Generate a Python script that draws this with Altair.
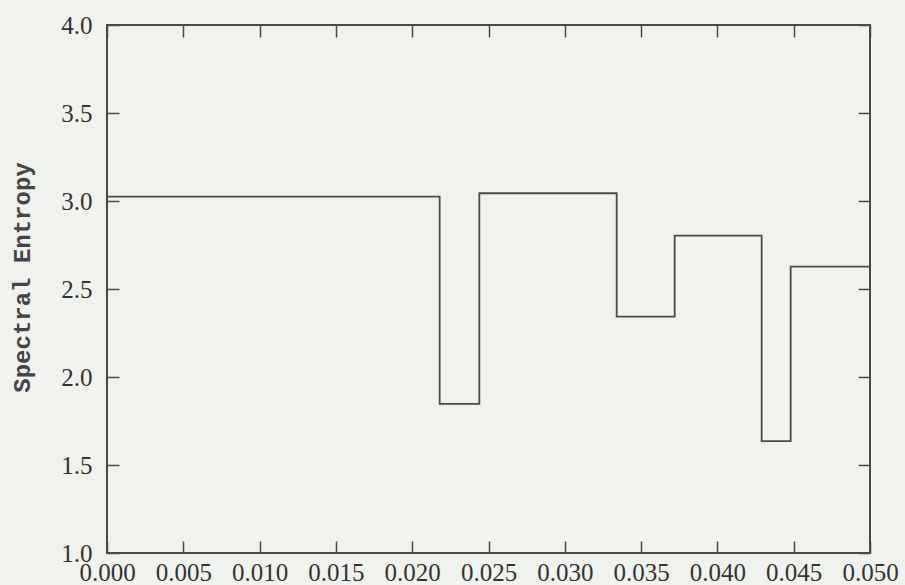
import altair as alt
import pandas as pd

# step edges (x) and the level held on each interval
edges = [0.0, 0.0218, 0.0244, 0.0334, 0.0372, 0.0429, 0.0448, 0.050]
levels = [3.025, 1.847, 3.044, 2.343, 2.803, 1.636, 2.627]

x_ticks = [0.000, 0.005, 0.010, 0.015, 0.020, 0.025, 0.030, 0.035, 0.040, 0.045, 0.050]
y_ticks = [1.0, 1.5, 2.0, 2.5, 3.0, 3.5, 4.0]

rows = [{"x": e, "y": v} for e, v in zip(edges[:-1], levels)]
rows.append({"x": edges[-1], "y": levels[-1]})
df = pd.DataFrame(rows)

INK = "#4a4a4a"
LABEL = "#333333"
SERIF = "Liberation Serif"

xscale = alt.Scale(domain=[0, 0.05], nice=False, zero=False)
yscale = alt.Scale(domain=[1.0, 4.0], nice=False, zero=False)

base = alt.Chart(df)

main = base.mark_line(interpolate="step-after", color=INK, strokeWidth=1.8).encode(
    x=alt.X("x:Q", scale=xscale,
            axis=alt.Axis(values=x_ticks, format=".3f", title=None, grid=False,
                          domain=False, tickSize=alt.ExprRef("-12"), tickColor=INK,
                          tickWidth=1.5, labelPadding=19, labelFont=SERIF,
                          labelFontSize=25, labelColor=LABEL, labelFlush=False,
                          labelOverlap=False)),
    y=alt.Y("y:Q", scale=yscale,
            axis=alt.Axis(values=y_ticks, format=".1f", title="Spectral Entropy",
                          grid=False, domain=False, tickSize=alt.ExprRef("-12"),
                          tickColor=INK, tickWidth=1.5, labelPadding=27,
                          labelFont=SERIF, labelFontSize=25, labelColor=LABEL,
                          labelFlush=False, labelOverlap=False,
                          titleFont="Liberation Mono", titleFontSize=24,
                          titleFontWeight="bold", titleColor="#444444",
                          titleX=-73, titleY=252)),
)

mirror = base.mark_line(interpolate="step-after", strokeOpacity=0).encode(
    x=alt.X("x:Q", scale=xscale,
            axis=alt.Axis(orient="top", values=x_ticks, labels=False, title=None,
                          grid=False, domain=False, tickSize=alt.ExprRef("-12"),
                          tickColor=INK, tickWidth=1.5)),
    y=alt.Y("y:Q", scale=yscale,
            axis=alt.Axis(orient="right", values=y_ticks, labels=False, title=None,
                          grid=False, domain=False, tickSize=alt.ExprRef("-12"),
                          tickColor=INK, tickWidth=1.5)),
)

chart = (
    alt.layer(main, mirror)
    .resolve_axis(x="independent", y="independent")
    .properties(
        width=763,
        height=528,
        autosize=alt.AutoSizeParams(type="none"),
        padding={"left": 107, "top": 25, "right": 35, "bottom": 32},
        background="#f0f2ee",
    )
    .configure_view(stroke=INK, strokeWidth=2)
)

chart.save("out.html", embed_options={"renderer": "svg", "actions": False})
